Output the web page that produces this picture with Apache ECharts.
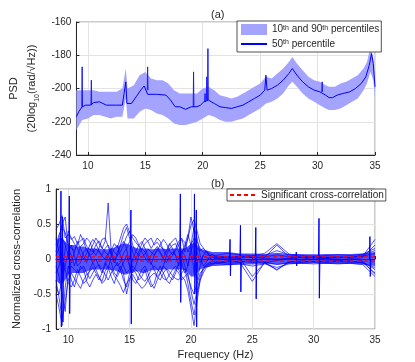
<!DOCTYPE html>
<html>
<head>
<meta charset="utf-8">
<script src="https://cdn.jsdelivr.net/npm/echarts@6/dist/echarts.min.js"></script>
<style>
html, body { margin: 0; padding: 0; background: #fff; }
#chart { width: 415px; height: 362px; }
</style>
</head>
<body>
<div id="chart"></div>
<script>
// tick labels
const xTicks = [10, 15, 20, 25, 30, 35];

// (a) PSD: 10th / 90th percentile band
const bandFreq = [9.0, 9.5, 10.0, 10.5, 11.0, 11.5, 12.0, 12.5, 13.0, 13.3, 13.45, 14.0, 14.5, 15.0, 15.5, 16.0, 16.5, 17.0, 17.5, 18.0, 18.5, 19.0, 19.5, 20.0, 20.5, 21.0, 21.5, 22.0, 22.5, 23.0, 23.5, 24.0, 24.5, 25.0, 25.5, 26.0, 26.5, 27.0, 27.5, 27.8, 28.2, 28.7, 29.2, 29.7, 30.2, 30.7, 31.0, 31.5, 32.0, 32.5, 33.0, 33.5, 34.0, 34.3, 34.6, 34.85, 35.0];
const bandUpper = [-201, -201, -201, -201, -202, -202, -202, -202, -200, -188, -200, -198, -192, -190, -194, -195, -195, -197, -201, -203, -203, -203, -203, -200, -199, -201, -204, -205, -206, -205, -203, -201, -199, -197, -193, -194, -191, -188, -184, -181, -185, -189, -193, -195, -196, -198, -199, -199, -197, -196, -194, -192, -188, -184, -175, -182, -194];
const bandLower = [-225, -219, -218, -216, -216, -217, -218, -217, -217, -206, -218, -218, -214, -212, -213, -215, -216, -218, -221, -222, -222, -221, -220, -218, -216, -217, -219, -220, -220, -219, -218, -216, -214, -212, -209, -208, -206, -203, -198, -196, -199, -203, -206, -208, -210, -212, -213, -213, -212, -210, -208, -206, -201, -197, -190, -195, -205];

// (a) PSD: 50th percentile
const medFreq = [9.0, 9.2, 9.5, 9.8, 10.2, 10.5, 11.0, 11.3, 11.6, 12.5, 13.0, 13.15, 13.3, 13.4, 13.8, 14.2, 14.6, 14.9, 15.2, 16.0, 16.8, 17.2, 17.6, 18.0, 18.5, 19.0, 19.5, 19.8, 20.1, 20.5, 21.0, 21.5, 22.0, 22.5, 23.0, 23.5, 24.0, 24.5, 25.0, 25.4, 25.5, 25.6, 26.0, 26.5, 27.0, 27.5, 27.8, 28.2, 28.7, 29.2, 29.7, 30.2, 30.7, 31.0, 31.3, 31.7, 32.2, 32.8, 33.3, 33.8, 34.2, 34.5, 34.7, 34.85, 35.0];
const medVal = [-217, -214, -211, -210, -210, -208.5, -208, -209, -210, -210, -210, -203, -196, -209, -209, -205, -201, -198.5, -203.5, -203.5, -204, -207, -211, -211, -212.5, -211, -211, -210, -208, -207, -209, -211, -211.5, -212, -211, -210, -208, -206, -204, -201, -192, -201, -200, -198, -195, -191, -188, -192, -196, -199, -201, -202, -204, -205.5, -205.5, -204, -203, -202, -200, -197, -193, -186, -179, -185, -199];
// narrow peaks on the median: [freq, base, peak]
const medSpikes = [[9.5, -211, -187], [10.3, -210, -195], [15.2, -201, -187], [19.2, -211, -190], [20.2, -208, -203], [20.35, -207, -193], [20.45, -207, -176], [30.4, -202, -196]];

// (b) cross-correlation curves
const ccFreq = [9, 9.25, 9.5, 9.75, 10, 10.25, 10.5, 10.75, 11, 11.25, 11.5, 11.75, 12, 12.25, 12.5, 12.75, 13, 13.25, 13.5, 13.75, 14, 14.25, 14.5, 14.75, 15, 15.25, 15.5, 15.75, 16, 16.25, 16.5, 16.75, 17, 17.25, 17.5, 17.75, 18, 18.25, 18.5, 18.75, 19, 19.25, 19.5, 19.75, 20, 20.25, 20.5, 20.75, 21, 21.25, 21.5, 21.75, 22, 23, 24, 25, 26, 27, 28, 29, 30, 31, 32, 33, 34, 35];
const cc1 = [0.42, 0.5, 0.62, 0.3, 0.35, 0.28, 0.32, 0.22, 0.26, 0.3, 0.18, 0.14, 0.1,
  0.2, 0.26, 0.16, 0.1, 0.06, 0.12, 0.22, 0.16, 0.3, 0.44, 0.5, 0.38, 0.3,
  0.24, 0.18, 0.14, 0.22, 0.26, 0.3, 0.2, 0.24, 0.18, 0.14, 0.1, 0.2, 0.26,
  0.3, 0.18, 0.1, 0.16, 0.3, 0.48, 0.56, 0.4, 0.22, 0.16, 0.1, 0.08, 0.06, 0.04,
  0.03, 0.04, 0.02, 0.03, 0.06, 0.03, 0.02, 0.03, 0.02, 0.03, 0.02, 0.06, 0.12];
const cc2 = [-0.3, -0.55, -0.85, -0.6, -0.3, -0.2, -0.28, -0.35, -0.42, -0.3, -0.22, -0.18, -0.12,
  -0.2, -0.26, -0.32, -0.18, -0.1, -0.14, -0.24, -0.3, -0.38, -0.48, -0.35, -0.28, -0.22,
  -0.3, -0.36, -0.42, -0.38, -0.3, -0.24, -0.2, -0.26, -0.3, -0.2, -0.14, -0.18, -0.24,
  -0.28, -0.3, -0.2, -0.14, -0.35, -0.6, -0.8, -0.5, -0.3, -0.2, -0.12, -0.1, -0.08, -0.06,
  -0.04, -0.03, -0.05, -0.04, -0.08, -0.05, -0.03, -0.04, -0.03, -0.02, -0.03, -0.05, -0.2];
const cc3 = [0.2, 0.35, 0.45, 0.38, 0.2, 0.15, 0.12, 0.2, 0.35, 0.25, 0.12, 0.05, 0.08,
  0.14, 0.1, 0.04, 0.0, 0.08, 0.15, 0.1, 0.05, 0.1, 0.2, 0.32, 0.4, 0.2,
  0.1, 0.06, 0.02, 0.08, 0.14, 0.1, 0.05, 0.12, 0.2, 0.28, 0.22, 0.12, 0.06,
  0.12, 0.2, 0.28, 0.24, 0.1, 0.2, 0.3, 0.25, 0.15, 0.1, 0.06, 0.05, 0.04, 0.03,
  0.02, 0.03, 0.02, 0.02, 0.2, 0.03, 0.02, 0.02, 0.02, 0.03, 0.02, 0.04, 0.08];
const cc4 = [-0.1, -0.25, -0.5, -0.75, -0.2, -0.1, -0.15, -0.2, -0.15, -0.1, -0.2, -0.28, -0.2,
  -0.12, -0.08, -0.15, -0.22, -0.3, -0.2, -0.12, -0.05, -0.15, -0.3, -0.4, -0.2, -0.1,
  -0.15, -0.2, -0.28, -0.32, -0.25, -0.15, -0.1, -0.14, -0.2, -0.28, -0.3, -0.22, -0.15,
  -0.1, -0.15, -0.25, -0.3, -0.45, -0.7, -0.95, -0.6, -0.3, -0.15, -0.1, -0.08, -0.06, -0.05,
  -0.03, -0.04, -0.03, -0.05, -0.16, -0.04, -0.03, -0.04, -0.03, -0.04, -0.03, -0.06, -0.12];
const cc5 = [0.05, 0.15, 0.3, 0.2, 0.05, -0.05, 0.1, 0.25, 0.15, 0.05, -0.05, 0.1, 0.2,
  0.3, 0.22, 0.15, 0.25, 0.8, 0.1, -0.05, 0.1, 0.18, 0.25, 0.15, -0.1, -0.2,
  -0.1, 0.05, 0.15, 0.1, 0.0, -0.08, 0.05, 0.15, 0.08, 0.0, -0.05, 0.05, 0.1,
  0.05, -0.1, 0.05, 0.2, 0.35, 0.2, -0.2, -0.3, -0.1, 0.05, 0.02, 0.0, 0.02, 0.01,
  0.01, 0.0, -0.02, 0.01, 0.0, 0.01, -0.01, 0.0, 0.01, 0.0, -0.01, 0.02, 0.2];
const cc6 = [-0.4, -0.5, -0.3, -0.1, 0.1, 0.2, 0.05, -0.1, -0.05, 0.1, 0.15, 0.05, -0.05,
  -0.15, -0.25, -0.35, -0.3, -0.15, 0.05, 0.15, 0.2, 0.05, -0.1, -0.2, -0.15, 0.0,
  0.1, 0.2, 0.25, 0.15, 0.05, -0.05, -0.15, -0.25, -0.2, -0.1, 0.05, 0.15, 0.2,
  0.22, 0.1, -0.05, -0.2, -0.1, 0.2, 0.45, 0.3, 0.05, -0.1, -0.05, 0.03, -0.02, 0.02,
  -0.02, 0.01, -0.25, -0.05, -0.02, 0.01, 0.02, -0.01, 0.01, -0.02, 0.01, -0.03, -0.22];
const cc7 = [0.3, 0.1, -0.2, 0.15, 0.4, 0.3, 0.22, 0.15, 0.05, 0.0, 0.08, 0.2, 0.28,
  0.22, 0.12, 0.05, 0.15, 0.2, 0.1, 0.0, -0.1, -0.05, 0.08, 0.15, 0.25, 0.35,
  0.3, 0.2, 0.1, 0.02, -0.05, 0.05, 0.12, 0.18, 0.1, 0.02, 0.12, 0.22, 0.15,
  0.05, 0.0, 0.1, 0.05, -0.1, 0.1, 0.25, 0.15, 0.12, 0.15, 0.1, 0.05, 0.03, 0.02,
  0.03, 0.02, 0.04, 0.05, 0.12, 0.06, 0.03, 0.04, 0.03, 0.02, 0.03, 0.04, 0.28];
const cc8 = [-0.2, -0.1, 0.1, -0.15, -0.35, -0.4, -0.3, -0.15, -0.25, -0.35, -0.3, -0.15, -0.05,
  0.0, -0.1, -0.2, -0.1, 0.05, -0.05, -0.2, -0.25, -0.15, -0.05, 0.05, -0.1, -0.3,
  -0.35, -0.25, -0.15, -0.1, -0.2, -0.35, -0.42, -0.3, -0.2, -0.1, -0.15, -0.25, -0.3,
  -0.2, -0.05, 0.05, -0.1, -0.25, -0.4, -0.5, -0.35, -0.2, -0.15, -0.08, -0.05, -0.04, -0.03,
  -0.06, -0.05, -0.32, -0.05, -0.15, -0.04, -0.05, -0.04, -0.05, -0.04, -0.05, -0.04, -0.15];
const cc9 = [0.1, 0.3, 0.5, 0.6, 0.15, 0.05, -0.1, 0.05, 0.18, 0.22, 0.3, 0.25, 0.12,
  0.05, 0.15, 0.28, 0.3, 0.18, 0.05, -0.05, 0.05, 0.2, 0.35, 0.45, 0.3, 0.1,
  0.0, 0.1, 0.22, 0.3, 0.25, 0.15, 0.22, 0.3, 0.25, 0.12, 0.05, 0.0, 0.05,
  0.15, 0.25, 0.3, 0.1, 0.3, 0.6, 0.4, 0.1, -0.05, 0.05, 0.12, 0.05, 0.06, 0.05,
  0.08, 0.06, 0.05, 0.08, 0.22, 0.07, 0.05, 0.06, 0.05, 0.06, 0.05, 0.07, 0.15];
const cc10 = [-0.5, -0.7, -0.95, -0.4, -0.1, -0.3, -0.4, -0.25, -0.1, -0.15, -0.32, -0.4, -0.3,
  -0.22, -0.3, -0.2, -0.05, -0.12, -0.25, -0.35, -0.2, -0.1, -0.2, -0.5, -0.3, -0.15,
  -0.2, -0.3, -0.25, -0.15, -0.3, -0.4, -0.35, -0.2, -0.1, -0.2, -0.3, -0.35, -0.25,
  -0.15, -0.2, -0.3, -0.25, -0.2, -0.45, -0.65, -0.45, -0.25, -0.12, -0.1, -0.06, -0.07, -0.06,
  -0.08, -0.07, -0.1, -0.07, -0.12, -0.07, -0.06, -0.07, -0.06, -0.07, -0.06, -0.08, -0.25];
// dense core of the bundle
const coreUpper = [0.25, 0.3, 0.3, 0.25, 0.2, 0.2, 0.2, 0.18, 0.18, 0.18, 0.16, 0.15, 0.15,
  0.15, 0.15, 0.14, 0.14, 0.14, 0.15, 0.16, 0.18, 0.2, 0.22, 0.22, 0.2, 0.18,
  0.16, 0.15, 0.15, 0.15, 0.15, 0.14, 0.14, 0.15, 0.15, 0.15, 0.14, 0.15, 0.15,
  0.15, 0.15, 0.15, 0.15, 0.18, 0.22, 0.22, 0.2, 0.15, 0.13, 0.12, 0.11, 0.1, 0.1,
  0.1, 0.08, 0.08, 0.07, 0.09, 0.07, 0.07, 0.06, 0.07, 0.07, 0.07, 0.08, 0.1];
const coreLower = [-0.3, -0.35, -0.35, -0.3, -0.22, -0.2, -0.2, -0.2, -0.2, -0.2, -0.18, -0.16, -0.15,
  -0.15, -0.15, -0.15, -0.15, -0.15, -0.16, -0.16, -0.18, -0.2, -0.22, -0.22, -0.2, -0.18,
  -0.18, -0.18, -0.2, -0.2, -0.18, -0.16, -0.16, -0.16, -0.16, -0.15, -0.15, -0.15, -0.15,
  -0.15, -0.15, -0.15, -0.16, -0.2, -0.25, -0.25, -0.2, -0.15, -0.13, -0.12, -0.11, -0.1, -0.1,
  -0.09, -0.08, -0.08, -0.07, -0.08, -0.07, -0.07, -0.06, -0.07, -0.07, -0.07, -0.08, -0.1];
// sharp peaks: [freq, max, min]
const ccSpikes = [[9.42, 0.97, -0.97], [9.55, 0.6, -0.9], [10.1, 0.9, -0.78], [15.12, 0.7, -0.93], [19.15, 0.93, -0.62], [20.3, 0.93, -0.5], [20.45, 0.7, -0.97], [23.2, 0.28, -0.24], [24.05, 0.48, -0.47], [25.3, 0.45, -0.57], [28.6, 0.1, -0.1], [30.45, 0.58, -0.56], [34.6, 0.32, -0.25]];
const sigLevel = [0.03, -0.03];

const txt = '#262626';
const font = 'Arial, "Liberation Sans", sans-serif';
const bandColor = '#a4a4ff';
const bandName = '10th and 90th percentiles';
const medName = '50th percentile';
const sigName = 'Significant cross-correlation';

function xAxisCfg(idx) {
    return {
        gridIndex: idx, type: 'value', min: 9, max: 35,
        axisLine: { lineStyle: { color: txt } },
        axisTick: { inside: true, length: 3, customValues: xTicks, lineStyle: { color: txt } },
        axisLabel: { customValues: xTicks, color: txt, fontSize: 10, fontFamily: font, margin: 6 },
        splitLine: { show: true, lineStyle: { color: '#e3e3e3', width: 1 } }
    };
}

// filled polygon between two curves, drawn through the axis scales
function bandSeries(idx, freqs, up, lo, color, opacity, name) {
    return {
        type: 'custom', name: name, coordinateSystem: 'cartesian2d', xAxisIndex: idx, yAxisIndex: idx,
        clip: true, silent: true, itemStyle: { color: color },
        data: freqs.map((f, i) => [f, up[i], lo[i]]),
        encode: { x: 0, y: [1, 2] },
        renderItem: function (params, api) {
            if (params.dataIndex !== 0) return null;
            const pts = [];
            for (let i = 0; i < freqs.length; i++) pts.push(api.coord([freqs[i], up[i]]));
            for (let i = freqs.length - 1; i >= 0; i--) pts.push(api.coord([freqs[i], lo[i]]));
            return { type: 'polygon', shape: { points: pts }, style: { fill: color, opacity: opacity } };
        }
    };
}

const series = [];
series.push(bandSeries(0, bandFreq, bandUpper, bandLower, bandColor, 1, bandName));
medSpikes.forEach(s => {
    series.push({
        type: 'line', xAxisIndex: 0, yAxisIndex: 0, symbol: 'none', silent: true,
        lineStyle: { color: '#1a1aff', width: 1 },
        data: [[s[0] - 0.03, s[1]], [s[0], s[2]], [s[0] + 0.03, s[1]]]
    });
});
series.push({
    name: medName, type: 'line', xAxisIndex: 0, yAxisIndex: 0, symbol: 'none',
    color: '#0000ff', lineStyle: { color: '#0000ff', width: 1 },
    data: medFreq.map((f, i) => [f, medVal[i]])
});

// (b)
series.push(bandSeries(1, ccFreq, coreUpper, coreLower, '#1a1aff', 0.75, 'core'));
[cc1, cc2, cc3, cc4, cc5, cc6, cc7, cc8, cc9, cc10].forEach(c => {
    series.push({
        type: 'line', xAxisIndex: 1, yAxisIndex: 1, symbol: 'none', silent: true,
        lineStyle: { color: '#0000ff', width: 0.8, opacity: 0.85 },
        data: ccFreq.map((f, i) => [f, c[i]])
    });
});
ccSpikes.forEach(s => {
    series.push({
        type: 'line', xAxisIndex: 1, yAxisIndex: 1, symbol: 'none', silent: true,
        lineStyle: { color: '#0000ff', width: 1 },
        data: [[s[0] - 0.06, 0], [s[0] - 0.015, s[1]], [s[0] + 0.015, s[2]], [s[0] + 0.06, 0]]
    });
});
sigLevel.forEach(v => {
    series.push({
        name: sigName, type: 'line', xAxisIndex: 1, yAxisIndex: 1, symbol: 'none',
        color: '#ff0000', lineStyle: { color: '#ff0000', width: 1.2, type: [4, 3] },
        data: [[9, v], [35, v]]
    });
});

const legendText = {
    color: txt, fontSize: 10, fontFamily: font,
    rich: { s: { fontSize: 7, verticalAlign: 'top', color: txt, fontFamily: font } }
};

const chart = echarts.init(document.getElementById('chart'));
chart.setOption({
    animation: false,
    backgroundColor: '#fff',
    title: [
        { text: '(a)', left: 206, top: 4, textStyle: { fontSize: 11, fontWeight: 'normal', color: txt, fontFamily: font } },
        { text: '(b)', left: 206, top: 173, textStyle: { fontSize: 11, fontWeight: 'normal', color: txt, fontFamily: font } }
    ],
    grid: [
        { left: 56, top: 22, width: 319, height: 133, show: true, borderColor: '#999', borderWidth: 1, backgroundColor: '#fff' },
        { left: 56, top: 189, width: 319, height: 140, show: true, borderColor: '#999', borderWidth: 1, backgroundColor: '#fff' }
    ],
    legend: [
        {
            data: [{ name: bandName, icon: 'rect' }, { name: medName, itemStyle: { opacity: 0 } }],
            orient: 'vertical', left: 237, top: 21, itemWidth: 26, itemHeight: 11, itemGap: 4,
            padding: [3, 2, 3, 3], backgroundColor: '#fff', borderColor: txt, borderWidth: 0.8,
            formatter: n => n.replace(/(\d)th/g, '$1{s|th}'), textStyle: legendText
        },
        {
            data: [{ name: sigName, itemStyle: { opacity: 0 } }], left: 227, top: 189, itemWidth: 26, itemHeight: 8,
            padding: [1, 2, 1, 2], backgroundColor: '#fff', borderColor: txt, borderWidth: 0.8,
            textStyle: legendText
        }
    ],
    xAxis: [
        xAxisCfg(0),
        Object.assign(xAxisCfg(1), {
            name: 'Frequency (Hz)', nameLocation: 'middle', nameGap: 20,
            nameTextStyle: { fontSize: 11, color: txt, fontFamily: font }
        })
    ],
    yAxis: [
        {
            gridIndex: 0, type: 'value', min: -240, max: -160, interval: 20,
            axisLine: { show: true, lineStyle: { color: txt } },
            axisTick: { show: true, inside: true, length: 3, lineStyle: { color: txt } },
            axisLabel: { color: txt, fontSize: 10, fontFamily: font, margin: 5 },
            splitLine: { show: true, lineStyle: { color: '#e3e3e3' } },
            name: '{t|PSD}\n{t|(20log}{s|10}{t|(rad/\u221AHz))}', nameLocation: 'middle', nameGap: 26, nameRotate: 90,
            nameTextStyle: {
                color: txt, fontFamily: font,
                rich: {
                    t: { fontSize: 11, lineHeight: 18, color: txt, fontFamily: font },
                    s: { fontSize: 7, lineHeight: 18, verticalAlign: 'bottom', color: txt, fontFamily: font }
                }
            }
        },
        {
            gridIndex: 1, type: 'value', min: -1, max: 1, interval: 0.5,
            axisLine: { show: true, lineStyle: { color: txt } },
            axisTick: { show: true, inside: true, length: 3, lineStyle: { color: txt } },
            axisLabel: { color: txt, fontSize: 10, fontFamily: font, margin: 5 },
            splitLine: { show: true, lineStyle: { color: '#e3e3e3' } },
            name: 'Normalized cross-correlation', nameLocation: 'middle', nameGap: 22, nameRotate: 90,
            nameTextStyle: { fontSize: 11, color: txt, fontFamily: font }
        }
    ],
    series: series
});
</script>
</body>
</html>
